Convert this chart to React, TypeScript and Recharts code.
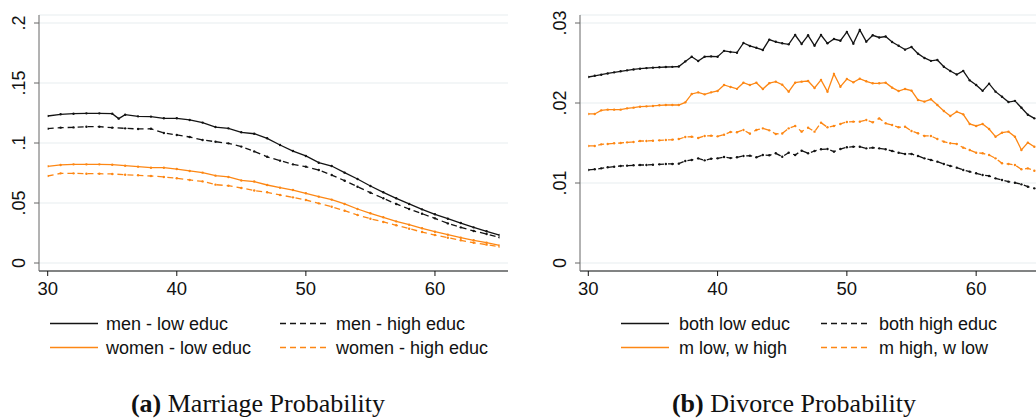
import React from 'react';
import { LineChart, Line, XAxis, YAxis, CartesianGrid } from 'recharts';

const FONT = '"Liberation Sans", Arial, Helvetica, sans-serif';
const SERIF = '"Liberation Serif", "Times New Roman", serif';
const BLACK = '#141414';
const ORANGE = '#fd8714';
const DASH = '6 4';

// (a) marriage probability, yearly ages (one extra half-year point for men - low educ)
const marriageAges = [
  30, 31, 32, 33, 34, 35, 35.5, 36, 37, 38, 39, 40, 41, 42, 43, 44, 45, 46, 47,
  48, 49, 50, 51, 52, 53, 54, 55, 56, 57, 58, 59, 60, 61, 62, 63, 64, 65,
];
const menLowEduc = [
  0.1225, 0.1239, 0.1244, 0.1247, 0.1247, 0.1244, 0.1203, 0.1236, 0.1222, 0.122,
  0.1206, 0.1206, 0.1192, 0.117, 0.1133, 0.1122, 0.1089, 0.1077, 0.1039, 0.0983,
  0.0933, 0.0892, 0.0836, 0.0808, 0.0753, 0.07, 0.0642, 0.0589, 0.0539, 0.0492,
  0.0447, 0.0406, 0.0369, 0.0333, 0.0297, 0.0264, 0.0233,
];
const menHighEduc = [
  0.1119, 0.1128, 0.113, 0.1136, 0.1136, 0.1128, null, 0.1122, 0.1117, 0.1119,
  0.1083, 0.1067, 0.105, 0.1025, 0.1011, 0.0997, 0.097, 0.093, 0.0885, 0.0853,
  0.0822, 0.0803, 0.0775, 0.0733, 0.0686, 0.0636, 0.0586, 0.0539, 0.0492, 0.045,
  0.0411, 0.0372, 0.033, 0.0297, 0.0267, 0.0242, 0.0214,
];
const womenLowEduc = [
  0.0806, 0.0817, 0.0822, 0.0822, 0.0822, 0.0819, null, 0.0811, 0.0803, 0.0794,
  0.0794, 0.0783, 0.0767, 0.0753, 0.0728, 0.0717, 0.0688, 0.0679, 0.065, 0.0628,
  0.0608, 0.0581, 0.0553, 0.0528, 0.0492, 0.045, 0.0414, 0.0381, 0.0347, 0.0319,
  0.0289, 0.0261, 0.0236, 0.0211, 0.0189, 0.0169, 0.0147,
];
const womenHighEduc = [
  0.0725, 0.0747, 0.0747, 0.0744, 0.0744, 0.0742, null, 0.0736, 0.0731, 0.0725,
  0.0717, 0.0706, 0.0692, 0.068, 0.0653, 0.0644, 0.0625, 0.0604, 0.0589, 0.0567,
  0.0547, 0.0525, 0.0497, 0.0469, 0.0436, 0.04, 0.0369, 0.0342, 0.0314, 0.0286,
  0.0258, 0.0233, 0.0211, 0.0189, 0.0169, 0.0153, 0.0136,
];

// (b) divorce probability, half-year ages
const divorceAges = [
  30, 30.5, 31, 31.5, 32, 32.5, 33, 33.5, 34, 34.5,
  35, 35.5, 36, 36.5, 37, 37.5, 38, 38.5, 39, 39.5,
  40, 40.5, 41, 41.5, 42, 42.5, 43, 43.5, 44, 44.5,
  45, 45.5, 46, 46.5, 47, 47.5, 48, 48.5, 49, 49.5,
  50, 50.5, 51, 51.5, 52, 52.5, 53, 53.5, 54, 54.5,
  55, 55.5, 56, 56.5, 57, 57.5, 58, 58.5, 59, 59.5,
  60, 60.5, 61, 61.5, 62, 62.5, 63, 63.5, 64, 64.5,
];
const bothLowEduc = [
  0.02325, 0.0234, 0.02354, 0.02369, 0.02383, 0.02396, 0.02408, 0.02419, 0.02429, 0.02436,
  0.02442, 0.02446, 0.0245, 0.02452, 0.02456, 0.0252, 0.02579, 0.02525, 0.02579, 0.02583,
  0.02579, 0.02652, 0.02638, 0.02629, 0.0275, 0.02713, 0.0269, 0.02663, 0.02792, 0.02765,
  0.02746, 0.02733, 0.0285, 0.02738, 0.02846, 0.02717, 0.0285, 0.02746, 0.028, 0.02779,
  0.02888, 0.02742, 0.02913, 0.02767, 0.02846, 0.02819, 0.02831, 0.02763, 0.02715, 0.02667,
  0.027, 0.02617, 0.02563, 0.02527, 0.02538, 0.02454, 0.024, 0.02356, 0.02402, 0.02283,
  0.02225, 0.02152, 0.02242, 0.02142, 0.02079, 0.02012, 0.02027, 0.0194, 0.01854, 0.01808,
];
const bothHighEduc = [
  0.01163, 0.01171, 0.01183, 0.01196, 0.01204, 0.01213, 0.01217, 0.01221, 0.01225, 0.01225,
  0.01229, 0.01233, 0.01238, 0.01238, 0.01242, 0.01275, 0.01288, 0.01308, 0.01283, 0.01304,
  0.01308, 0.01325, 0.01311, 0.01321, 0.01338, 0.01342, 0.01321, 0.0135, 0.01346, 0.01371,
  0.01329, 0.01379, 0.0135, 0.01404, 0.01371, 0.014, 0.01421, 0.01425, 0.01392, 0.01425,
  0.01446, 0.01454, 0.01454, 0.01433, 0.01442, 0.01433, 0.01421, 0.014, 0.01379, 0.01363,
  0.01363, 0.01338, 0.01308, 0.01288, 0.01267, 0.01238, 0.01213, 0.01192, 0.01163, 0.01142,
  0.01121, 0.011, 0.01088, 0.01058, 0.01038, 0.01017, 0.01004, 0.00983, 0.00954, 0.00933,
];
const mLowWHigh = [
  0.01863, 0.01863, 0.01908, 0.01917, 0.01917, 0.01917, 0.01933, 0.01942, 0.01954, 0.01958,
  0.01963, 0.01971, 0.01975, 0.01975, 0.01975, 0.02008, 0.02113, 0.02133, 0.02108, 0.02133,
  0.0215, 0.02225, 0.022, 0.02177, 0.02254, 0.02225, 0.02254, 0.02175, 0.02248, 0.02267,
  0.02229, 0.02142, 0.02254, 0.02267, 0.02275, 0.02188, 0.02288, 0.02142, 0.02363, 0.02204,
  0.023, 0.02258, 0.02304, 0.02271, 0.02246, 0.02246, 0.02254, 0.02192, 0.0215, 0.02175,
  0.02154, 0.02038, 0.02017, 0.02046, 0.01975, 0.019, 0.01838, 0.01892, 0.01858, 0.01738,
  0.01713, 0.01738, 0.01675, 0.01579, 0.01629, 0.01642, 0.01579, 0.01413, 0.01504, 0.01454,
];
const mHighWLow = [
  0.01463, 0.01463, 0.01483, 0.01488, 0.01496, 0.015, 0.01508, 0.01513, 0.01525, 0.01525,
  0.01529, 0.01533, 0.01538, 0.01542, 0.0155, 0.01575, 0.01579, 0.01563, 0.01588, 0.01592,
  0.01583, 0.01604, 0.01638, 0.01635, 0.01663, 0.01617, 0.01663, 0.01683, 0.01658, 0.01613,
  0.01619, 0.01683, 0.01713, 0.01642, 0.01692, 0.01642, 0.01754, 0.01696, 0.01713, 0.01738,
  0.01763, 0.01767, 0.01767, 0.01788, 0.01758, 0.01808, 0.01746, 0.01725, 0.01696, 0.01704,
  0.0165, 0.01621, 0.01588, 0.01588, 0.0155, 0.01517, 0.01496, 0.01488, 0.01442, 0.01413,
  0.01379, 0.01371, 0.0135, 0.01308, 0.01246, 0.01238, 0.01225, 0.01171, 0.01183, 0.01154,
];

const xTicks = [30, 40, 50, 60];
const marriageYTicks = [0, 0.05, 0.1, 0.15, 0.2];
const divorceYTicks = [0, 0.01, 0.02, 0.03];

const marriageLabels = ['men - low educ', 'men - high educ', 'women - low educ', 'women - high educ'];
const divorceLabels = ['both low educ', 'both high educ', 'm low, w high', 'm high, w low'];

type Series = { key: string; name: string; color: string; dashed: boolean };

const marriageSeries: Series[] = [
  { key: 'menLow', name: marriageLabels[0], color: BLACK, dashed: false },
  { key: 'menHigh', name: marriageLabels[1], color: BLACK, dashed: true },
  { key: 'womenLow', name: marriageLabels[2], color: ORANGE, dashed: false },
  { key: 'womenHigh', name: marriageLabels[3], color: ORANGE, dashed: true },
];
const divorceSeries: Series[] = [
  { key: 'bothLow', name: divorceLabels[0], color: BLACK, dashed: false },
  { key: 'bothHigh', name: divorceLabels[1], color: BLACK, dashed: true },
  { key: 'mLow', name: divorceLabels[2], color: ORANGE, dashed: false },
  { key: 'mHigh', name: divorceLabels[3], color: ORANGE, dashed: true },
];

const marriageData = marriageAges.map((age, i) => ({
  age,
  menLow: menLowEduc[i],
  menHigh: menHighEduc[i],
  womenLow: womenLowEduc[i],
  womenHigh: womenHighEduc[i],
}));
const divorceData = divorceAges.map((age, i) => ({
  age,
  bothLow: bothLowEduc[i],
  bothHigh: bothHighEduc[i],
  mLow: mLowWHigh[i],
  mHigh: mHighWLow[i],
}));

// stata-style labels: ".05" instead of "0.05", turned sideways
const YTick = (props: any) => {
  const { x, y, payload } = props;
  const v = payload.value;
  const label = v === 0 ? '0' : String(v).replace(/^0\./, '.');
  return (
    <text
      x={x}
      y={y}
      transform={`rotate(-90 ${x} ${y})`}
      textAnchor="middle"
      fontSize={18}
      fontFamily={FONT}
      fill="#111"
    >
      {label}
    </text>
  );
};

type PanelProps = {
  data: any[];
  series: Series[];
  yMax: number;
  yTicks: number[];
  width: number;
  yAxisWidth: number;
  padLeft: number;
  padRight: number;
};

const Panel = ({ data, series, yMax, yTicks, width, yAxisWidth, padLeft, padRight }: PanelProps) => (
  <LineChart width={width} height={300} data={data} margin={{ top: 15, right: 12, left: 0, bottom: 0 }}>
    <CartesianGrid horizontal vertical={false} stroke="#e7edef" strokeWidth={1.2} />
    <XAxis
      dataKey="age"
      type="number"
      domain={[30, 65]}
      ticks={xTicks}
      padding={{ left: padLeft, right: padRight }}
      height={29}
      tickSize={5}
      tickMargin={6}
      stroke="#111"
      tick={{ fontSize: 18.5, fill: '#111', fontFamily: FONT }}
      allowDataOverflow
    />
    <YAxis
      type="number"
      domain={[0, yMax]}
      ticks={yTicks}
      padding={{ top: 8, bottom: 8 }}
      width={yAxisWidth}
      tickSize={5}
      tickMargin={9}
      stroke="#666"
      tick={<YTick />}
    />
    {series.map((s) => (
      <Line
        key={s.key}
        dataKey={s.key}
        name={s.name}
        type="linear"
        stroke={s.color}
        strokeWidth={1.3}
        strokeDasharray={s.dashed ? DASH : undefined}
        dot={{ r: 1.2, fill: s.color, stroke: 'none', strokeDasharray: '' }}
        activeDot={false}
        connectNulls
        isAnimationActive={false}
      />
    ))}
  </LineChart>
);

type LegendProps = { series: Series[]; col1: number; col2: number; gap: number };

const LegendBlock = ({ series, col1, col2, gap }: LegendProps) => (
  <g>
    {series.map((s, i) => {
      const x = i % 2 === 0 ? col1 : col2;
      const y = i < 2 ? 323.5 : 347.5;
      return (
        <g key={s.key}>
          <line
            x1={x}
            x2={x + 48}
            y1={y}
            y2={y}
            stroke={s.color}
            strokeWidth={1.5}
            strokeDasharray={s.dashed ? DASH : undefined}
          />
          <text x={x + 48 + gap} y={y + 6.5} fontSize={18} fontFamily={FONT} fill="#111">
            {s.name}
          </text>
        </g>
      );
    })}
  </g>
);

export default function App() {
  return (
    <div
      style={{
        position: 'absolute',
        left: 0,
        top: 0,
        width: 1036,
        height: 418,
        overflow: 'hidden',
        background: '#fff',
      }}
    >
      <div style={{ position: 'absolute', left: 0, top: 0 }}>
        <Panel
          data={marriageData}
          series={marriageSeries}
          yMax={0.2}
          yTicks={marriageYTicks}
          width={520}
          yAxisWidth={39}
          padLeft={8.7}
          padRight={8.5}
        />
      </div>
      <div style={{ position: 'absolute', left: 520, top: 0 }}>
        <Panel
          data={divorceData}
          series={divorceSeries}
          yMax={0.03}
          yTicks={divorceYTicks}
          width={540}
          yAxisWidth={60}
          padLeft={8.3}
          padRight={7.2}
        />
      </div>
      <svg width={1036} height={418} style={{ position: 'absolute', left: 0, top: 0, pointerEvents: 'none' }}>
        <LegendBlock series={marriageSeries} col1={50} col2={280} gap={8} />
        <LegendBlock series={divorceSeries} col1={621} col2={821} gap={10} />
        <text x={258} y={412} textAnchor="middle" fontSize={26} fontFamily={SERIF} fill="#111">
          <tspan fontWeight="bold">(a)</tspan> Marriage Probability
        </text>
        <text x={794} y={412} textAnchor="middle" fontSize={26} fontFamily={SERIF} fill="#111">
          <tspan fontWeight="bold">(b)</tspan> Divorce Probability
        </text>
      </svg>
    </div>
  );
}
